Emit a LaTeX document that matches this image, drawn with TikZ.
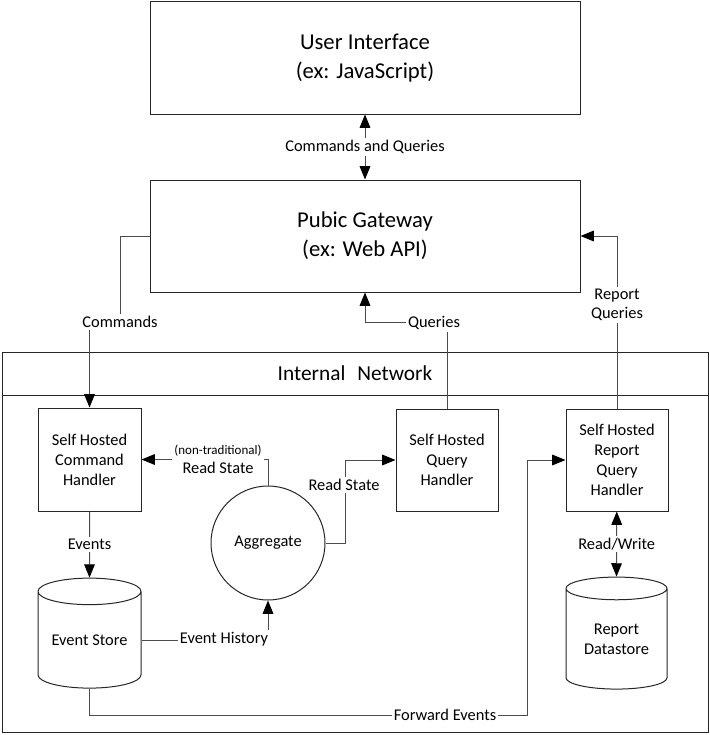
\documentclass[tikz,border=0pt]{standalone}
\usepackage{fontspec}
\setmainfont{Carlito}
\usetikzlibrary{arrows.meta,shapes.geometric}
\tikzstyle{block}=[draw=black!85,rectangle,line width=0.75pt,inner sep=0pt,align=center,font=\fontsize{12.3}{15}\selectfont]
\tikzstyle{big block}=[block,font=\fontsize{17}{22}\selectfont]
\tikzstyle{store}=[block,cylinder,shape border rotate=90,aspect=0.35]
\tikzstyle{edge}=[draw,black!70,line width=0.75pt]
\tikzstyle{arrow}=[edge,-{Triangle[length=10pt,width=8pt,color=black]}]
\tikzstyle{both ways}=[edge,{Triangle[length=10pt,width=8pt,color=black]}-{Triangle[length=10pt,width=8pt,color=black]}]
\tikzstyle{lbl}=[fill=white,text=black,inner sep=1.5pt,align=center,font=\fontsize{12.3}{14.3}\selectfont]

\begin{document}
\begin{tikzpicture}[x=0.75pt,y=-0.75pt]
    \useasboundingbox (0,0) rectangle (710,735);
    % First we draw the boxes
    \node[big block,minimum width=322.5pt,minimum height=84pt] (ui) at (365,58) {User Interface\\(ex: JavaScript)};
    \node[big block,minimum width=322.5pt,minimum height=84pt] (gw) at (365,236) {Pubic Gateway\\(ex: Web API)};
    \node[block,minimum width=529.5pt,minimum height=285pt] (net) at (355,542) {};
    \path[edge,black!85] (net.west |- 0,395) -- (net.east |- 0,395);
    \node[font=\fontsize{16}{20}\selectfont] (nettitle) at (355,373) {Internal\hspace{9pt}Network};

    \node[block,minimum width=77.25pt,minimum height=77.25pt] (cmd) at (89.5,459.5) {Self Hosted\\Command\\Handler};
    \node[block,minimum width=76.5pt,minimum height=76.5pt] (qh) at (447,460) {Self Hosted\\Query\\Handler};
    \node[block,minimum width=76.5pt,minimum height=76.5pt] (rqh) at (617,460) {Self Hosted\\Report\\Query\\Handler};
    \node[block,circle,minimum size=85.5pt] (agg) at (268,543) {Aggregate};
    \node[store,minimum width=77.25pt,minimum height=82.5pt] (es) at (89.5,640) {Event Store};
    \node[store,minimum width=75.75pt,minimum height=84pt] (rd) at (616.5,639) {Report\\Datastore};
    \coordinate (fwd) at (527,715);

    % Connect them
    \path[both ways] (ui) -- node[lbl] (cq) {Commands and Queries} (gw);
    \path[arrow] (gw.west) -| (120,322) -| (cmd.north);
    \node[lbl] (cmdlbl) at (120,322) {Commands};
    \path[arrow] (qh.north) -- ++(0,-86) -| (gw.south);
    \node[lbl] (qlbl) at (434,323) {Queries};
    \path[arrow] (rqh.north) |- (gw.east);
    \node[lbl] (rqlbl) at (617,305) {Report\\Queries};
    \path[arrow] (cmd) -- node[lbl] (evlbl) {Events} (es.north);
    \path[arrow] (agg.north) |- (cmd.east);
    \node[lbl] (rs1) at (218,459) {{\fontsize{9.75}{12}\selectfont (non-traditional)}\\Read State};
    \path[arrow] (agg.east) -- ++(20,0) |- (qh.west);
    \node[lbl] (rs2) at (344,485) {Read State};
    \path[arrow] (es.east) -| (agg.south);
    \node[lbl] (ehlbl) at (224,639) {Event History};
    \path[arrow] (es.south) |- (fwd) |- (rqh.west);
    \node[lbl] (fwlbl) at (445,715) {Forward Events};
    \path[both ways] (rqh) -- node[lbl] (rwlbl) {Read/Write} (rd.north);
\end{tikzpicture}
\end{document}
